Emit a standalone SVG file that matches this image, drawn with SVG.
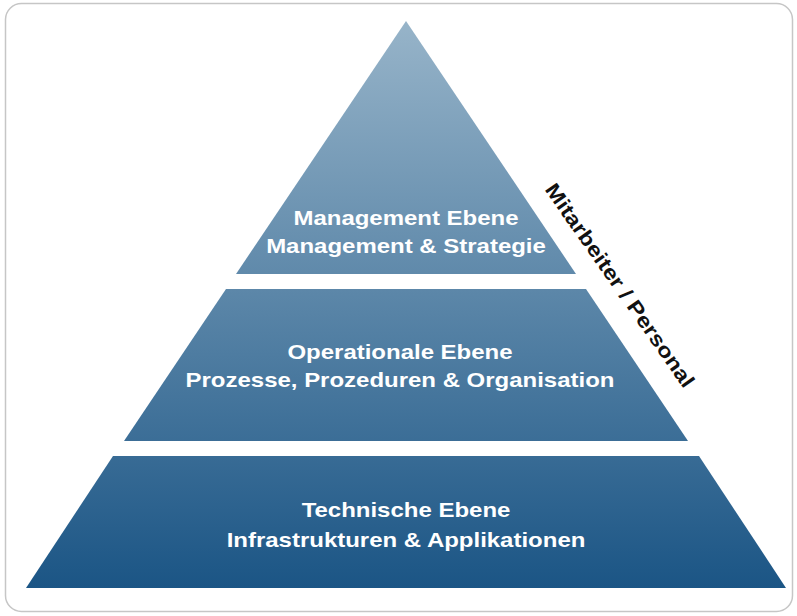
<svg xmlns="http://www.w3.org/2000/svg" width="797" height="616" viewBox="0 0 797 616">
  <defs>
    <linearGradient id="pyramidFill" gradientUnits="userSpaceOnUse" x1="0" y1="21" x2="0" y2="588">
      <stop offset="0" stop-color="#97b4c9"/>
      <stop offset="1" stop-color="#1b5585"/>
    </linearGradient>
    <style>
      .frame { fill: #ffffff; stroke: #c6c6c6; stroke-width: 1.5; }
      .tier { fill: url(#pyramidFill); }
      .label { font-family: "Liberation Sans", Arial, sans-serif; font-size: 20.5px; font-weight: bold; fill: #ffffff; text-anchor: middle; }
      .side { font-family: "Liberation Sans", Arial, sans-serif; font-size: 20.5px; font-weight: bold; fill: #111111; text-anchor: middle; }
    </style>
  </defs>

  <rect class="frame" x="5.5" y="3.5" width="787" height="608" rx="16" ry="16"/>

  <!-- top tier -->
  <g id="management">
    <polygon class="tier" points="406,21 576,274 236,274"/>
    <text class="label" transform="translate(406,225) scale(1.17,1)">Management Ebene</text>
    <text class="label" transform="translate(406,252.5) scale(1.17,1)">Management &amp; Strategie</text>
  </g>

  <!-- middle tier -->
  <g id="operational">
    <polygon class="tier" points="226,289 586,289 688,441 124,441"/>
    <text class="label" transform="translate(400,359) scale(1.17,1)">Operationale Ebene</text>
    <text class="label" transform="translate(400,387) scale(1.17,1)">Prozesse, Prozeduren &amp; Organisation</text>
  </g>

  <!-- bottom tier -->
  <g id="technical">
    <polygon class="tier" points="113,456 699,456 786,588 26,588"/>
    <text class="label" transform="translate(406,517) scale(1.17,1)">Technische Ebene</text>
    <text class="label" transform="translate(406,546.5) scale(1.17,1)">Infrastrukturen &amp; Applikationen</text>
  </g>

  <!-- label running along the right flank -->
  <g id="personnel">
    <text class="side" transform="translate(619,286) rotate(55) scale(1.17,1)" x="0" y="6">Mitarbeiter / Personal</text>
  </g>
</svg>
